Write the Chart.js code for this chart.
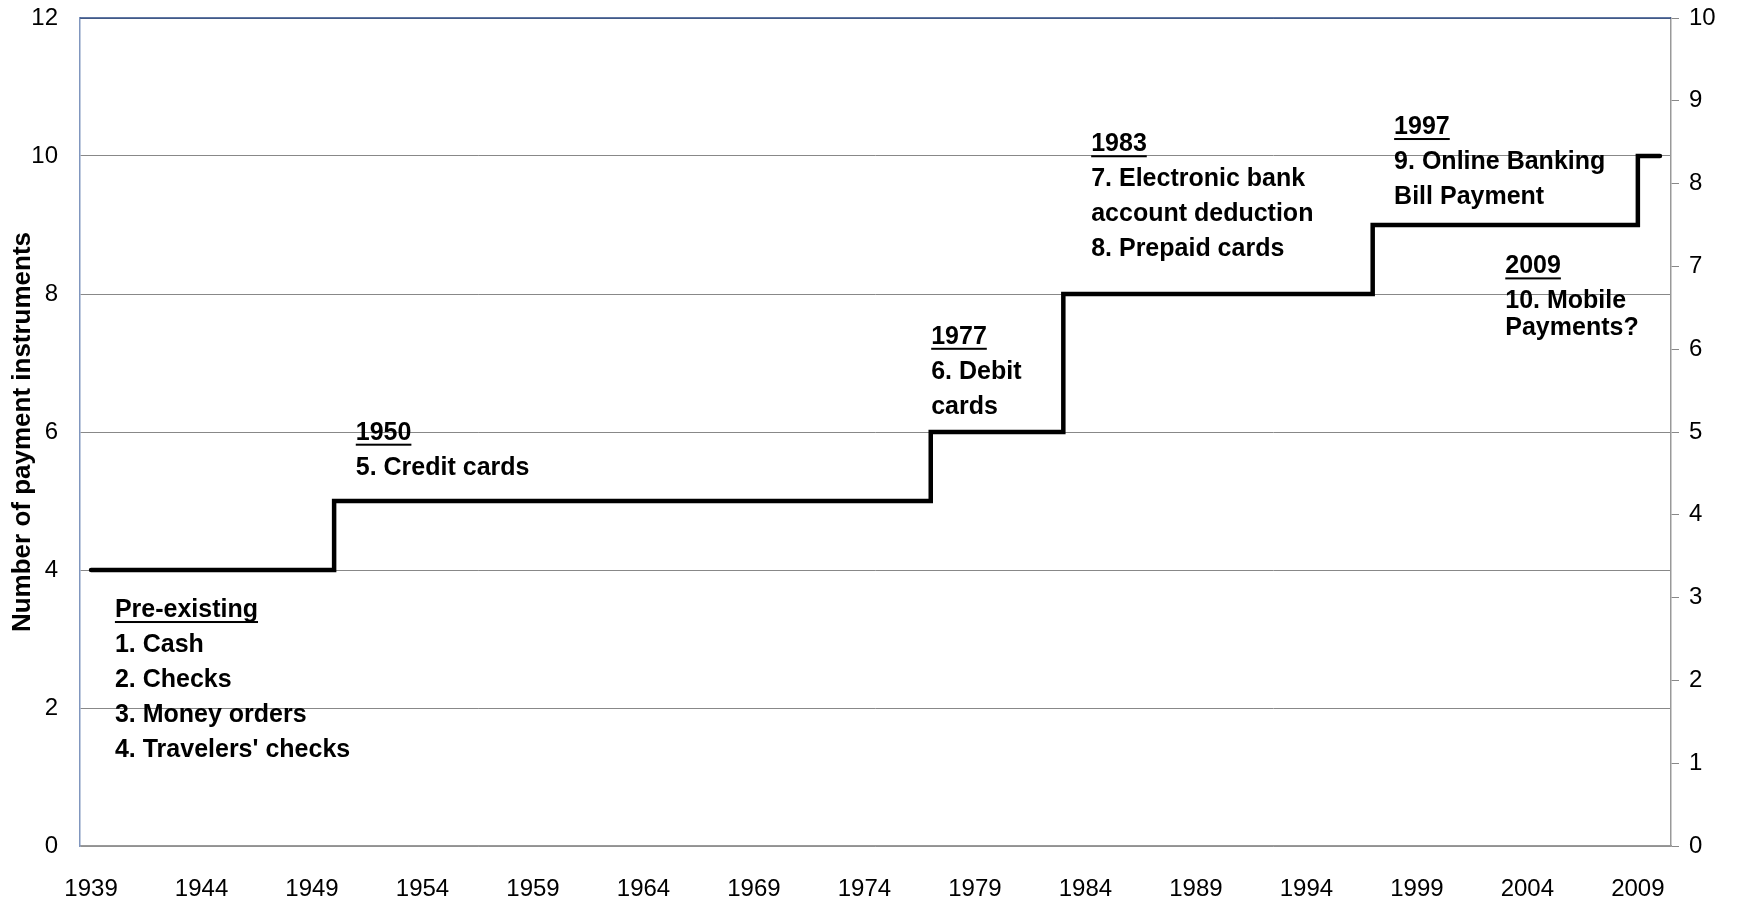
<!DOCTYPE html>
<html>
<head>
<meta charset="utf-8">
<title>Number of payment instruments</title>
<script src="https://cdn.jsdelivr.net/npm/chart.js@4.4.0/dist/chart.umd.min.js"></script>
<style>
  body { margin: 0; background: #fff; }
  canvas { display: block; }
</style>
</head>
<body>
<canvas id="chart" width="1741" height="899"></canvas>
<script>
// years on the x axis (one category per year), labelled every 5 years
const years = [];
for (let y = 1939; y <= 2010; y++) years.push(String(y));

// cumulative count of payment instruments per year
const instruments = [
    4, 4, 4, 4, 4, 4, 4, 4, 4, 4, 4,                  // 1939-1949
    5, 5, 5, 5, 5, 5, 5, 5, 5, 5, 5, 5, 5, 5, 5, 5,   // 1950-1965
    5, 5, 5, 5, 5, 5, 5, 5, 5, 5, 5,                  // 1966-1976
    6, 6, 6, 6, 6, 6,                                 // 1977-1982
    8, 8, 8, 8, 8, 8, 8, 8, 8, 8, 8, 8, 8, 8,         // 1983-1996
    9, 9, 9, 9, 9, 9, 9, 9, 9, 9, 9, 9,               // 1997-2008
    10, 10                                            // 2009-2010
];

const leftTicks = [0, 2, 4, 6, 8, 10, 12];
const rightTicks = [0, 1, 2, 3, 4, 5, 6, 7, 8, 9, 10];

// text boxes: first line is underlined (except where noted)
const notes = [
    { x: 1.08, y: 3.42, gap: 35, underline: true,
      lines: ["Pre-existing", "1. Cash", "2. Checks", "3. Money orders", "4. Travelers' checks"] },
    { x: 11.98, y: 5.99, gap: 35, underline: true, lines: ["1950", "5. Credit cards"] },
    { x: 38.02, y: 7.38, gap: 35, underline: true, lines: ["1977", "6. Debit", "cards"] },
    { x: 45.26, y: 10.17, gap: 35, underline: true,
      lines: ["1983", "7. Electronic bank", "account deduction", "8. Prepaid cards"] },
    { x: 58.97, y: 10.42, gap: 35, underline: true, lines: ["1997", "9. Online Banking", "Bill Payment"] },
    { x: 64.0, y: 8.4, gap: 35, underline: true, lines: ["2009"] },
    { x: 64.0, y: 7.9, gap: 27, underline: false, lines: ["10. Mobile", "Payments?"] }
];

const FONT = "'Liberation Sans', Arial, sans-serif";

const notesPlugin = {
    id: 'notes',
    afterDraw(chart) {
        const ctx = chart.ctx;
        const xs = chart.scales.x;
        const ys = chart.scales.y;
        const area = chart.chartArea;

        // dark top border of the plot area
        ctx.save();
        ctx.strokeStyle = '#2b4a86';
        ctx.lineWidth = 1.5;
        ctx.beginPath();
        ctx.moveTo(area.left, area.top);
        ctx.lineTo(area.right, area.top);
        ctx.stroke();

        ctx.font = 'bold 25px ' + FONT;
        ctx.fillStyle = '#000';
        ctx.textAlign = 'left';
        ctx.textBaseline = 'middle';
        notes.forEach((n) => {
            const x0 = xs.getPixelForValue(n.x);
            const y0 = ys.getPixelForValue(n.y);
            n.lines.forEach((line, i) => {
                const y = y0 + i * n.gap;
                ctx.fillText(line, x0, y);
                if (i === 0 && n.underline) {
                    const w = ctx.measureText(line).width;
                    ctx.fillRect(x0, y + 11, w, 2);
                }
            });
        });
        ctx.restore();
    }
};

// fixed axis sizes so the plot area matches the original; drop the extra
// label padding chart.js would otherwise reserve above and below
function fixVertical(width) {
    return (scale) => {
        scale.width = width;
        scale.paddingTop = 0;
        scale.paddingBottom = 0;
    };
}

new Chart(document.getElementById('chart'), {
    type: 'line',
    data: {
        labels: years,
        datasets: [{
            data: instruments,
            borderColor: '#000',
            borderWidth: 4.5,
            borderCapStyle: 'round',
            stepped: 'before',
            pointRadius: 0,
            fill: false,
            yAxisID: 'y'
        }]
    },
    options: {
        responsive: false,
        animation: false,
        layout: { padding: { top: 18, left: 0, right: 0, bottom: 0 } },
        plugins: {
            legend: { display: false },
            tooltip: { enabled: false }
        },
        scales: {
            x: {
                type: 'category',
                offset: true,
                grid: { display: false, drawTicks: false },
                border: { color: '#999', width: 1.5 },
                ticks: {
                    autoSkip: false,
                    maxRotation: 0,
                    minRotation: 0,
                    padding: 29,
                    color: '#000',
                    font: { family: FONT, size: 24 },
                    callback: (value, index) => (index % 5 === 0 ? years[index] : '')
                },
                afterFit: (scale) => {
                    scale.height = 53;
                    scale.paddingLeft = 0;
                    scale.paddingRight = 0;
                }
            },
            y: {
                position: 'left',
                min: leftTicks[0],
                max: leftTicks[leftTicks.length - 1],
                afterBuildTicks: (scale) => { scale.ticks = leftTicks.map((v) => ({ value: v })); },
                grid: { color: '#888', lineWidth: 1, drawTicks: false },
                border: { color: '#8096be', width: 1.5 },
                ticks: {
                    padding: 22,
                    color: '#000',
                    font: { family: FONT, size: 24 }
                },
                title: {
                    display: true,
                    text: 'Number of payment instruments',
                    color: '#000',
                    font: { family: FONT, size: 26, weight: 'bold' },
                    padding: { top: 7, bottom: 0 }
                },
                afterFit: fixVertical(80)
            },
            y2: {
                position: 'right',
                min: rightTicks[0],
                max: rightTicks[rightTicks.length - 1],
                afterBuildTicks: (scale) => { scale.ticks = rightTicks.map((v) => ({ value: v })); },
                grid: { drawOnChartArea: false, drawTicks: true, tickLength: 8, color: '#888' },
                border: { color: '#999', width: 1.5 },
                ticks: {
                    padding: 10,
                    color: '#000',
                    font: { family: FONT, size: 24 }
                },
                afterFit: fixVertical(70)
            }
        }
    },
    plugins: [notesPlugin]
});
</script>
</body>
</html>
